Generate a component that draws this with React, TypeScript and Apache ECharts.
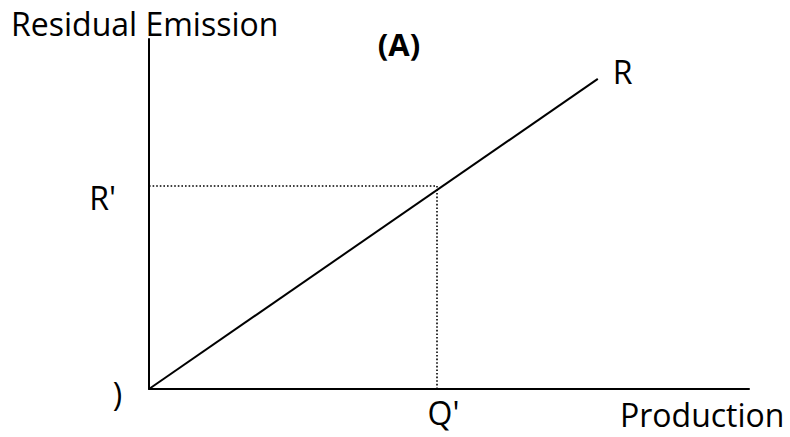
import React, { useEffect, useRef } from "react";
import * as echarts from "echarts";

const xLimits = [0, 100];
const yLimits = [0, 100];
const curveX = [0, 74.8];
const curveY = [0, 88.6];
const qPrime = 48;
const rPrime = 58;
const tickLabels = { q: "Q'", r: "R'", origin: ")", curve: "R" };
const axisTitles = { x: "Production", y: "Residual Emission" };
const panelTitle = "(A)";

const FONT = '"Open Sans", "Noto Sans", sans-serif';

export default function App() {
  const ref = useRef<HTMLDivElement>(null);

  useEffect(() => {
    const chart = echarts.init(ref.current as HTMLDivElement, null, { renderer: "svg" });
    const axisCommon = {
      type: "value",
      axisLine: { show: true, onZero: false, lineStyle: { color: "#000", width: 2 } },
      axisTick: { show: false },
      axisLabel: { show: false },
      splitLine: { show: false },
    };
    chart.setOption({
      animation: false,
      backgroundColor: "#ffffff",
      grid: { left: 149, right: 41, top: 39, bottom: 48, containLabel: false },
      xAxis: { ...axisCommon, min: xLimits[0], max: xLimits[1] },
      yAxis: { ...axisCommon, min: yLimits[0], max: yLimits[1] },
      series: [
        {
          type: "line",
          data: curveX.map((x, i) => [x, curveY[i]]),
          symbol: "none",
          lineStyle: { color: "#000", width: 2 },
          z: 3,
        },
        {
          type: "line",
          data: [
            [xLimits[0], rPrime],
            [qPrime, rPrime],
          ],
          symbol: "none",
          lineStyle: { color: "#000", width: 1.6, type: [1.6, 2] },
          z: 2,
        },
        {
          type: "line",
          data: [
            [qPrime, yLimits[0]],
            [qPrime, rPrime],
          ],
          symbol: "none",
          lineStyle: { color: "#000", width: 1.6, type: [1.6, 2] },
          z: 2,
        },
      ],
    });

    const px = (x: number, y: number) =>
      chart.convertToPixel({ gridIndex: 0 }, [x, y]) as number[];
    const origin = px(xLimits[0], yLimits[0]);
    const qp = px(qPrime, yLimits[0]);
    const rp = px(xLimits[0], rPrime);
    const end = px(curveX[1], curveY[1]);
    const axEnd = px(xLimits[1], yLimits[0]);

    const txt = (
      text: string,
      x: number,
      y: number,
      align: string,
      size = 32,
      weight = "normal"
    ) => ({
      type: "text",
      x,
      y,
      silent: true,
      style: {
        text,
        fill: "#000",
        fontSize: size,
        fontFamily: FONT,
        fontWeight: weight,
        align,
        verticalAlign: "middle",
      },
    });

    chart.setOption({
      graphic: [
        txt(axisTitles.y, 11, 23, "left"),
        txt(panelTitle, 399, 44, "center", 31, "bold"),
        txt(tickLabels.curve, end[0] + 15, end[1] - 7.5, "left"),
        txt(tickLabels.r, origin[0] - 33, rp[1] + 11, "right"),
        txt(tickLabels.q, qp[0] + 6.5, origin[1] + 23.5, "center"),
        txt(axisTitles.x, axEnd[0] - 129, origin[1] + 25.5, "left"),
        txt(tickLabels.origin, origin[0] - 31.5, origin[1] + 4.5, "center"),
      ],
    });

    return () => chart.dispose();
  }, []);

  return (
    <div
      ref={ref}
      style={{ position: "absolute", left: 0, top: 0, width: 790, height: 437 }}
    />
  );
}
